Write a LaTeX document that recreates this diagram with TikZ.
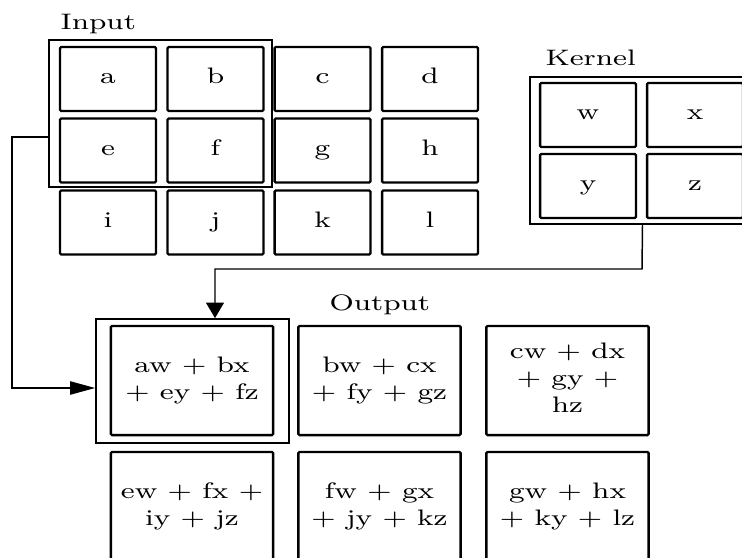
\documentclass[tikz,border=0pt]{standalone}
\usepackage{graphicx}
\usetikzlibrary{arrows.meta,calc}
\newcommand\wtxt[1]{\scalebox{1.31}[1]{\fontsize{7.6pt}{9.12pt}\selectfont #1}}
\newcommand\wlines[1]{\scalebox{1.31}[1]{\fontsize{7.6pt}{9.12pt}\selectfont\begin{tabular}{@{}c@{}}#1\end{tabular}}}
\begin{document}
\begin{tikzpicture}[x=0.339pt,y=-0.339pt,
  cell/.style={draw, line width=0.8pt, rounded corners=0.4pt, minimum width=32.5pt, minimum height=21.7pt, inner sep=0pt, text height=3.3pt, text depth=0pt},
  ocell/.style={draw, line width=0.8pt, rounded corners=0.4pt, minimum width=55pt, minimum height=37pt, inner sep=0pt},
  frame/.style={draw, line width=0.6pt, inner sep=0pt},
  conn/.style={line width=0.5pt},
  harr/.style={conn, -{Triangle[length=8.5pt,width=4.5pt]}},
  varr/.style={conn, -{Triangle[length=5.3pt,width=6.1pt]}},
  lbl/.style={anchor=base west, inner sep=0pt}]
\useasboundingbox (0,0) rectangle (742,557);
\clip (0,0) rectangle (742,557);

% Input
\node[lbl] (inl) at (60,30) {\wtxt{Input}};
\node[frame, minimum width=75.6pt, minimum height=49.8pt] (ibox) at (160.5,113.5) {};
\node[cell] (a) at (108,79) {\wtxt{a}};
\node[cell] (b) at (215.5,79) {\wtxt{b}};
\node[cell] (c) at (322.5,79) {\wtxt{c}};
\node[cell] (d) at (430,79) {\wtxt{d}};
\node[cell] (e) at (108,150.5) {\wtxt{e}};
\node[cell] (f) at (215.5,150.5) {\wtxt{f}};
\node[cell] (g) at (322.5,150.5) {\wtxt{g}};
\node[cell] (h) at (430,150.5) {\wtxt{h}};
\node[cell] (i) at (108,222.5) {\wtxt{i}};
\node[cell] (j) at (215.5,222.5) {\wtxt{j}};
\node[cell] (k) at (322.5,222.5) {\wtxt{k}};
\node[cell] (l) at (430,222.5) {\wtxt{l}};

% Kernel
\node[lbl] (knl) at (545,65) {\wtxt{Kernel}};
\node[frame, minimum width=76.3pt, minimum height=49.8pt] (kbox) at (642.5,150.5) {};
\node[cell] (w) at (588,115) {\wtxt{w}};
\node[cell] (x) at (695,115) {\wtxt{x}};
\node[cell] (y) at (588,186) {\wtxt{y}};
\node[cell] (z) at (695,186) {\wtxt{z}};

% Output
\node[lbl] (outl) at (329,310) {\wtxt{Output}};
\node[frame, minimum width=65.4pt, minimum height=42pt] (obox) at (192.5,381) {};
\node[ocell] (o1) at (192,380.5) {\wlines{aw + bx\\+ ey + fz}};
\node[ocell] (o2) at (379.5,380.5) {\wlines{bw + cx\\+ fy + gz}};
\node[ocell] (o3) at (567.5,380.5) {\wlines{cw + dx\\+ gy +\\hz}};
\node[ocell] (o4) at (192,506.5) {\wlines{ew + fx +\\iy + jz}};
\node[ocell] (o5) at (379.5,506.5) {\wlines{fw + gx\\+ jy + kz}};
\node[ocell] (o6) at (567.5,506.5) {\wlines{gw + hx\\+ ky + lz}};

% connectors
\coordinate (kb) at (642,269);
\coordinate (kt) at (215,269);
\draw[varr] (kbox.south) -- (kb) -- (kt) -- (obox.north -| kt);
\coordinate (is) at (49,137);
\coordinate (il) at (12,137);
\coordinate (ol) at (12,388);
\draw[harr] (ibox.west |- is) -- (il) -- (ol) -- (obox.west |- ol);
\end{tikzpicture}
\end{document}
